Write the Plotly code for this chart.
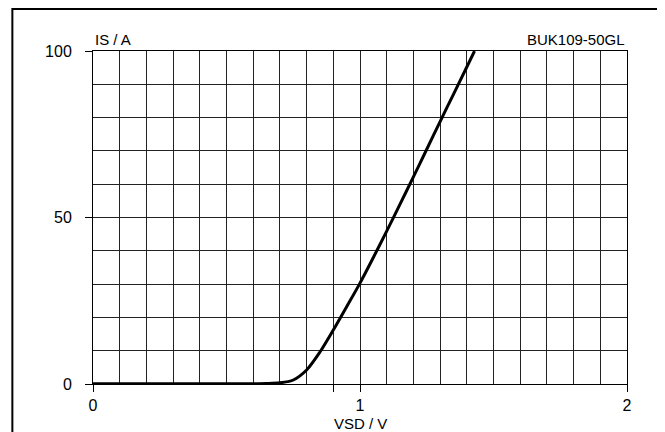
import plotly.graph_objects as go

# Data
vsd = [0.0, 0.1, 0.2, 0.3, 0.4, 0.5, 0.6, 0.65, 0.7, 0.75, 0.8, 0.85, 0.9, 0.95,
       1.0, 1.05, 1.1, 1.15, 1.2, 1.25, 1.3, 1.35, 1.4, 1.429]
i_s = [0.1, 0.1, 0.1, 0.1, 0.1, 0.1, 0.1, 0.15, 0.35, 1.2, 4.2, 9.6, 16.2, 23.2,
       30.3, 38.0, 45.9, 54.0, 62.2, 70.5, 78.8, 87.0, 95.2, 100.0]

x_tickvals = [0, 0.9, 1, 2]
x_ticktext = ["0", "", "1", "2"]
y_tickvals = [0, 50, 100]
y_ticktext = ["0", "50", "100"]

FONT = "Liberation Sans, Arial, sans-serif"
GRID = "#222222"

fig = go.Figure()
fig.add_trace(go.Scatter(
    x=vsd, y=i_s, mode="lines",
    line=dict(color="black", width=3, shape="spline", smoothing=0.8),
    hoverinfo="skip", showlegend=False,
))

fig.update_layout(
    width=665, height=432,
    margin=dict(l=85, r=46, t=43, b=56),
    paper_bgcolor="white", plot_bgcolor="white",
    font=dict(family=FONT, size=15, color="black"),
    showlegend=False,
    xaxis=dict(
        range=[0, 2], tickvals=x_tickvals, ticktext=x_ticktext,
        ticks="outside", ticklen=7, tickcolor="black", tickwidth=1,
        showgrid=True, gridcolor=GRID, gridwidth=1,
        minor=dict(dtick=0.1, showgrid=True, gridcolor=GRID, gridwidth=1, ticks=""),
        showline=True, linecolor="black", linewidth=1, mirror=True,
        zeroline=False, fixedrange=True, tickfont=dict(size=16),
    ),
    yaxis=dict(
        range=[0, 100], tickvals=y_tickvals, ticktext=y_ticktext,
        ticks="outside", ticklen=7, tickcolor="black", tickwidth=1,
        ticklabelstandoff=10,
        showgrid=True, gridcolor=GRID, gridwidth=1,
        minor=dict(dtick=10, showgrid=True, gridcolor=GRID, gridwidth=1, ticks=""),
        showline=True, linecolor="black", linewidth=1, mirror=True,
        zeroline=False, fixedrange=True, tickfont=dict(size=16),
    ),
    shapes=[dict(
        type="rect", xref="paper", yref="paper",
        x0=-0.151, x1=1.0663, y0=-0.4, y1=1.126,
        line=dict(color="black", width=2), fillcolor="rgba(0,0,0,0)", layer="above",
    )],
    annotations=[
        dict(text="IS / A", xref="paper", yref="paper", x=0.0, y=1.036,
             xanchor="left", yanchor="middle", showarrow=False, font=dict(size=15)),
        dict(text="BUK109-50GL", xref="paper", yref="paper", x=1.0, y=1.036,
             xanchor="right", yanchor="middle", showarrow=False, font=dict(size=15)),
        dict(text="VSD / V", xref="paper", yref="paper", x=0.5, y=-0.12,
             xanchor="center", yanchor="middle", showarrow=False, font=dict(size=15)),
    ],
)

fig.write_html("out.html")
